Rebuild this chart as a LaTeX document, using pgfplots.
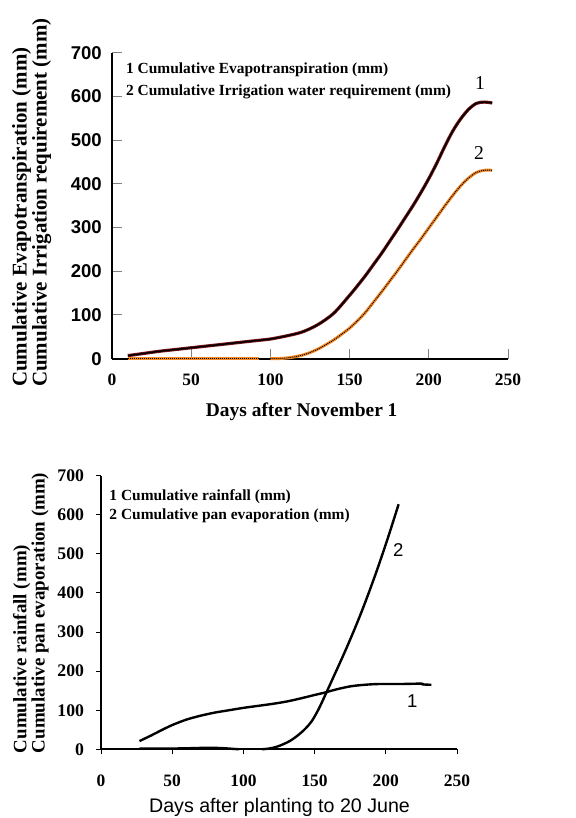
\documentclass[border=0pt]{standalone}
\usepackage{fontspec}
\setmainfont{Liberation Serif}
\newfontfamily\arialf{Liberation Sans}
\usepackage{pgfplots}
\pgfplotsset{compat=1.18}

\definecolor{etred}{HTML}{7A1212}
\definecolor{irrorange}{HTML}{F58A26}

% top chart: ET and irrigation requirement
\pgfplotstableread{
x y
10 7
20 12
30 17
40 21
50 25
60 29
70 33
80 37
90 41
100 45
110 52
120 61
130 78
140 104
150 145
155 167
160 190
165 215
170 240
175 267
180 294
185 322
190 350
195 380
200 412
205 447
210 485
215 520
220 548
225 570
230 584
235 587
240 585
}\etdata
\pgfplotstableread{
x y
10 0
93 0
}\irrA
\pgfplotstableread{
x y
100 0
105 0.3
110 1.5
115 4
120 8
125 14
130 22
135 32
140 43
145 56
150 70
155 87
160 106
165 129
170 152
175 176
180 200
185 225
190 250
195 274
200 299
205 324
210 349
215 373
220 395
225 413
230 426
235 431
240 431
}\irrB
% bottom chart: rainfall and pan evaporation
\pgfplotstableread{
x y
27 21
35 35
42 48
50 62
60 76
70 86
80 94
90 100
100 106
110 111
120 116
130 122
140 130
150 139
157 145
165 153
175 161
185 165
195 167
210 167
225 168
226 166
232 165
}\rain
\pgfplotstableread{
x y
27 2
50 2
65 3
75 4
85 3
97 0
}\panA
\pgfplotstableread{
x y
113 0
118 2
123 6
128 13
133 22
138 35
143 51
148 72
153 104
158 143
163 183
168 223
173 264
178 307
183 352
188 400
193 450
198 503
203 558
209 627
}\panB

\begin{document}
\begin{tikzpicture}
\useasboundingbox (0,0) rectangle (576bp,818bp);

\begin{axis}[
  at={(112bp,459.3bp)}, anchor=south west,
  scale only axis, width=396bp, height=306bp,
  xmin=0, xmax=250, ymin=0, ymax=700,
  axis x line*=bottom, axis y line*=left,
  axis line style={line width=1.8bp, black},
  xtick={0,50,...,250}, ytick={0,100,...,700},
  tick align=inside, major tick length=10bp,
  tick style={gray, line width=1bp},
  yticklabel={\arialf\bfseries\fontsize{18.6}{18.6}\selectfont\pgfmathprintnumber[assume math mode=true]{\tick}},
  xticklabel={\bfseries\fontsize{17.5}{17.5}\selectfont\pgfmathprintnumber[assume math mode=true]{\tick}},
  yticklabel style={inner sep=0pt, anchor=east, xshift=-10bp},
  xticklabel style={inner sep=0pt, anchor=north, yshift=-15bp},
  clip=false,
]
\addplot[etred, line width=3.2bp, smooth] table[x=x,y=y] {\etdata};
\addplot[black, line width=1.5bp, smooth] table[x=x,y=y] {\etdata};
\addplot[irrorange, line width=3bp] table[x=x,y=y] {\irrA};
\addplot[black, line width=1bp, densely dotted] table[x=x,y=y] {\irrA};
\addplot[irrorange, line width=3bp, smooth] table[x=x,y=y] {\irrB};
\addplot[black, line width=1bp, densely dotted, smooth] table[x=x,y=y] {\irrB};
\node[anchor=west, font=\bfseries\fontsize{15.5}{15.5}\selectfont, inner sep=0pt] at (axis cs:8.8,660) {1 Cumulative Evapotranspiration (mm)};
\node[anchor=west, font=\bfseries\fontsize{15.5}{15.5}\selectfont, inner sep=0pt] at (axis cs:8.8,611) {2 Cumulative Irrigation water requirement (mm)};
\node[font=\fontsize{19.7}{19.7}\selectfont] at (axis cs:232.3,630) {1};
\node[font=\fontsize{19.7}{19.7}\selectfont] at (axis cs:231.7,471) {2};
\end{axis}

\node[rotate=90, anchor=west, inner sep=0pt, font=\bfseries\fontsize{21}{21}\selectfont] at (21.7bp,431bp) {Cumulative Evapotranspiration (mm)};
\node[rotate=90, anchor=west, inner sep=0pt, font=\bfseries\fontsize{21}{21}\selectfont] at (41.7bp,431bp) {Cumulative Irrigation requirement (mm)};
\node[font=\bfseries\fontsize{19.5}{19.5}\selectfont] at (301.7bp,406bp) {Days after November 1};

\begin{axis}[
  at={(101bp,68.7bp)}, anchor=south west,
  scale only axis, width=356bp, height=273.6bp,
  xmin=0, xmax=250, ymin=0, ymax=700,
  axis x line*=bottom, axis y line*=left,
  axis line style={line width=1.8bp, black},
  xtick={0,50,...,250}, ytick={0,100,...,700},
  tick align=outside, major tick length=5bp,
  tick style={black, line width=1bp},
  yticklabel={\bfseries\fontsize{17.8}{17.8}\selectfont\pgfmathprintnumber[assume math mode=true]{\tick}},
  xticklabel={\bfseries\fontsize{17.5}{17.5}\selectfont\pgfmathprintnumber[assume math mode=true]{\tick}},
  yticklabel style={inner sep=0pt, anchor=east, xshift=-11.7bp},
  xticklabel style={inner sep=0pt, anchor=north, yshift=-20bp},
  clip=false,
]
\addplot[black, line width=2.4bp, smooth] table[x=x,y=y] {\rain};
\addplot[black, line width=2.4bp, smooth] table[x=x,y=y] {\panA};
\addplot[black, line width=2.4bp, smooth] table[x=x,y=y] {\panB};
\node[anchor=west, font=\bfseries\fontsize{15.5}{15.5}\selectfont, inner sep=0pt] at (axis cs:5.8,646) {1 Cumulative rainfall (mm)};
\node[anchor=west, font=\bfseries\fontsize{15.5}{15.5}\selectfont, inner sep=0pt] at (axis cs:5.8,597) {2 Cumulative pan evaporation (mm)};
\node[font=\arialf\fontsize{18.6}{18.6}\selectfont] at (axis cs:208.8,510) {2};
\node[font=\arialf\fontsize{18.6}{18.6}\selectfont] at (axis cs:218.6,122) {1};
\end{axis}

\node[rotate=90, anchor=west, inner sep=0pt, font=\bfseries\fontsize{19}{19}\selectfont] at (21.7bp,64.7bp) {Cumulative rainfall (mm)};
\node[rotate=90, anchor=west, inner sep=0pt, font=\bfseries\fontsize{19}{19}\selectfont] at (40bp,64.7bp) {Cumulative pan evaporation (mm)};
\node[font=\arialf\fontsize{19.7}{19.7}\selectfont] at (279.5bp,11bp) {Days after planting to 20 June};
\end{tikzpicture}
\end{document}
